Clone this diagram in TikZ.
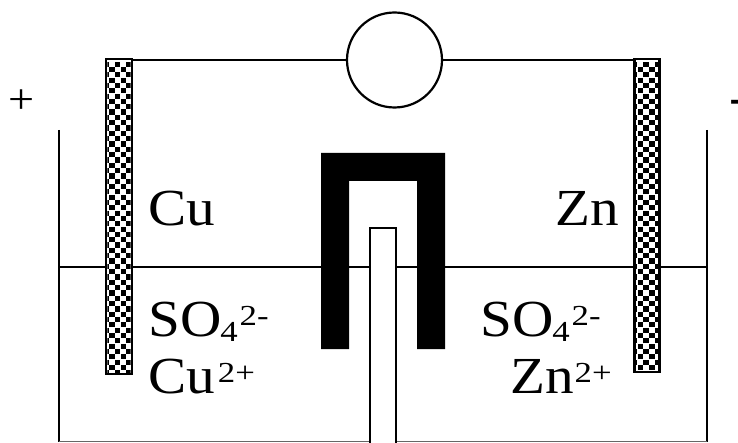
\documentclass[tikz,border=0pt]{standalone}
\usepackage{fontspec}
\setmainfont[FakeStretch=1.1]{Liberation Serif}
\newfontfamily\smallfam[FakeStretch=1.2]{Liberation Serif}
\newcommand{\checkerfill}[5]{%
  \begin{scope}
    \clip (#1,#2) rectangle (#3,#4);
    \foreach \r in {0,...,60} {
      \foreach \c in {0,...,3} {
        \pgfmathsetmacro{\xa}{#1+#5+\c*11.4+mod(\r,2)*5.7-5.7}
        \pgfmathsetmacro{\ya}{#2+1.2+\r*5.32}
        \fill[black] (\xa,\ya) rectangle ++(5.4,5.2);
      }
    }
  \end{scope}}
\newcommand{\smallfig}[2]{\raisebox{#1pt}{\smallfam\fontsize{29}{29}\selectfont #2}}
\tikzset{
  wire/.style={draw=black,line width=2.2pt},
  electrode/.style={draw=black,fill=white,line width=2.4pt,inner sep=0pt,outer sep=0pt,anchor=north west},
  bridge/.style={fill=black,draw=none},
  lbl/.style={font=\fontsize{52}{52}\selectfont,inner sep=0pt,anchor=base west}
}
\begin{document}
\begin{tikzpicture}[x=1pt,y=-1pt]
\useasboundingbox (0,0) rectangle (738,443);
\fill[white] (0,0) rectangle (738,443);
% beaker
\coordinate (bl) at (59,130); \coordinate (blb) at (59,441.5);
\coordinate (br) at (706.6,130); \coordinate (brb) at (706.6,441.5);
\coordinate (ll) at (59,267); \coordinate (lr) at (706.6,267);
\draw[wire] (bl) -- (blb);
\draw[wire] (br) -- (brb);
\draw[draw=black!60,line width=1.5pt] (blb) -- (370,441.5) (396,441.5) -- (brb);
\draw[wire] (ll) -- (lr);
% salt bridge
\path[bridge] (321,153) -- (445,153) -- (445,349) -- (417,349) -- (417,181) -- (349,181) -- (349,349) -- (321,349) -- cycle;
% membrane
\fill[white] (370,228) rectangle (396,443);
\draw[wire] (370,443) -- (370,228) -- (396,228) -- (396,443);
% electrodes
\node[electrode,minimum width=25.5pt,minimum height=314.5pt] (cu) at (106.2,59.3) {};
\node[electrode,minimum width=25pt,minimum height=312.5pt] (zn) at (634.6,59.3) {};
\checkerfill{107.3}{60.4}{130.6}{372.7}{2}
\checkerfill{635.7}{60.4}{658.5}{369}{2}
% meter
\node[draw=black,line width=2.2pt,circle,minimum size=95pt,inner sep=0pt] (meter) at (394.5,60) {};
\draw[wire] (meter.west) -- (meter.west -| cu.east);
\draw[wire] (meter.east) -- (meter.east -| zn.west);
% text
\node[lbl] (cut) at (148,226) {Cu};
\node[lbl] (znt) at (555,226) {Zn};
\node[lbl] (so1) at (148,336.5) {SO\kern-1pt\smallfig{-5}{4}\kern2pt\smallfig{11.5}{2-}};
\node[lbl] (cu2) at (148,393) {Cu\kern3pt\smallfig{11}{2+}};
\node[lbl] (so2) at (480,336.5) {SO\kern-1pt\smallfig{-5}{4}\kern2pt\smallfig{11.5}{2-}};
\node[lbl] (zn2) at (510,393) {Zn\kern1pt\smallfig{11}{2+}};
\node[lbl,font=\fontsize{42}{42}\selectfont] (plus) at (8.7,114) {+};
\node[lbl] (minus) at (729.5,115) {-};
\end{tikzpicture}
\end{document}
